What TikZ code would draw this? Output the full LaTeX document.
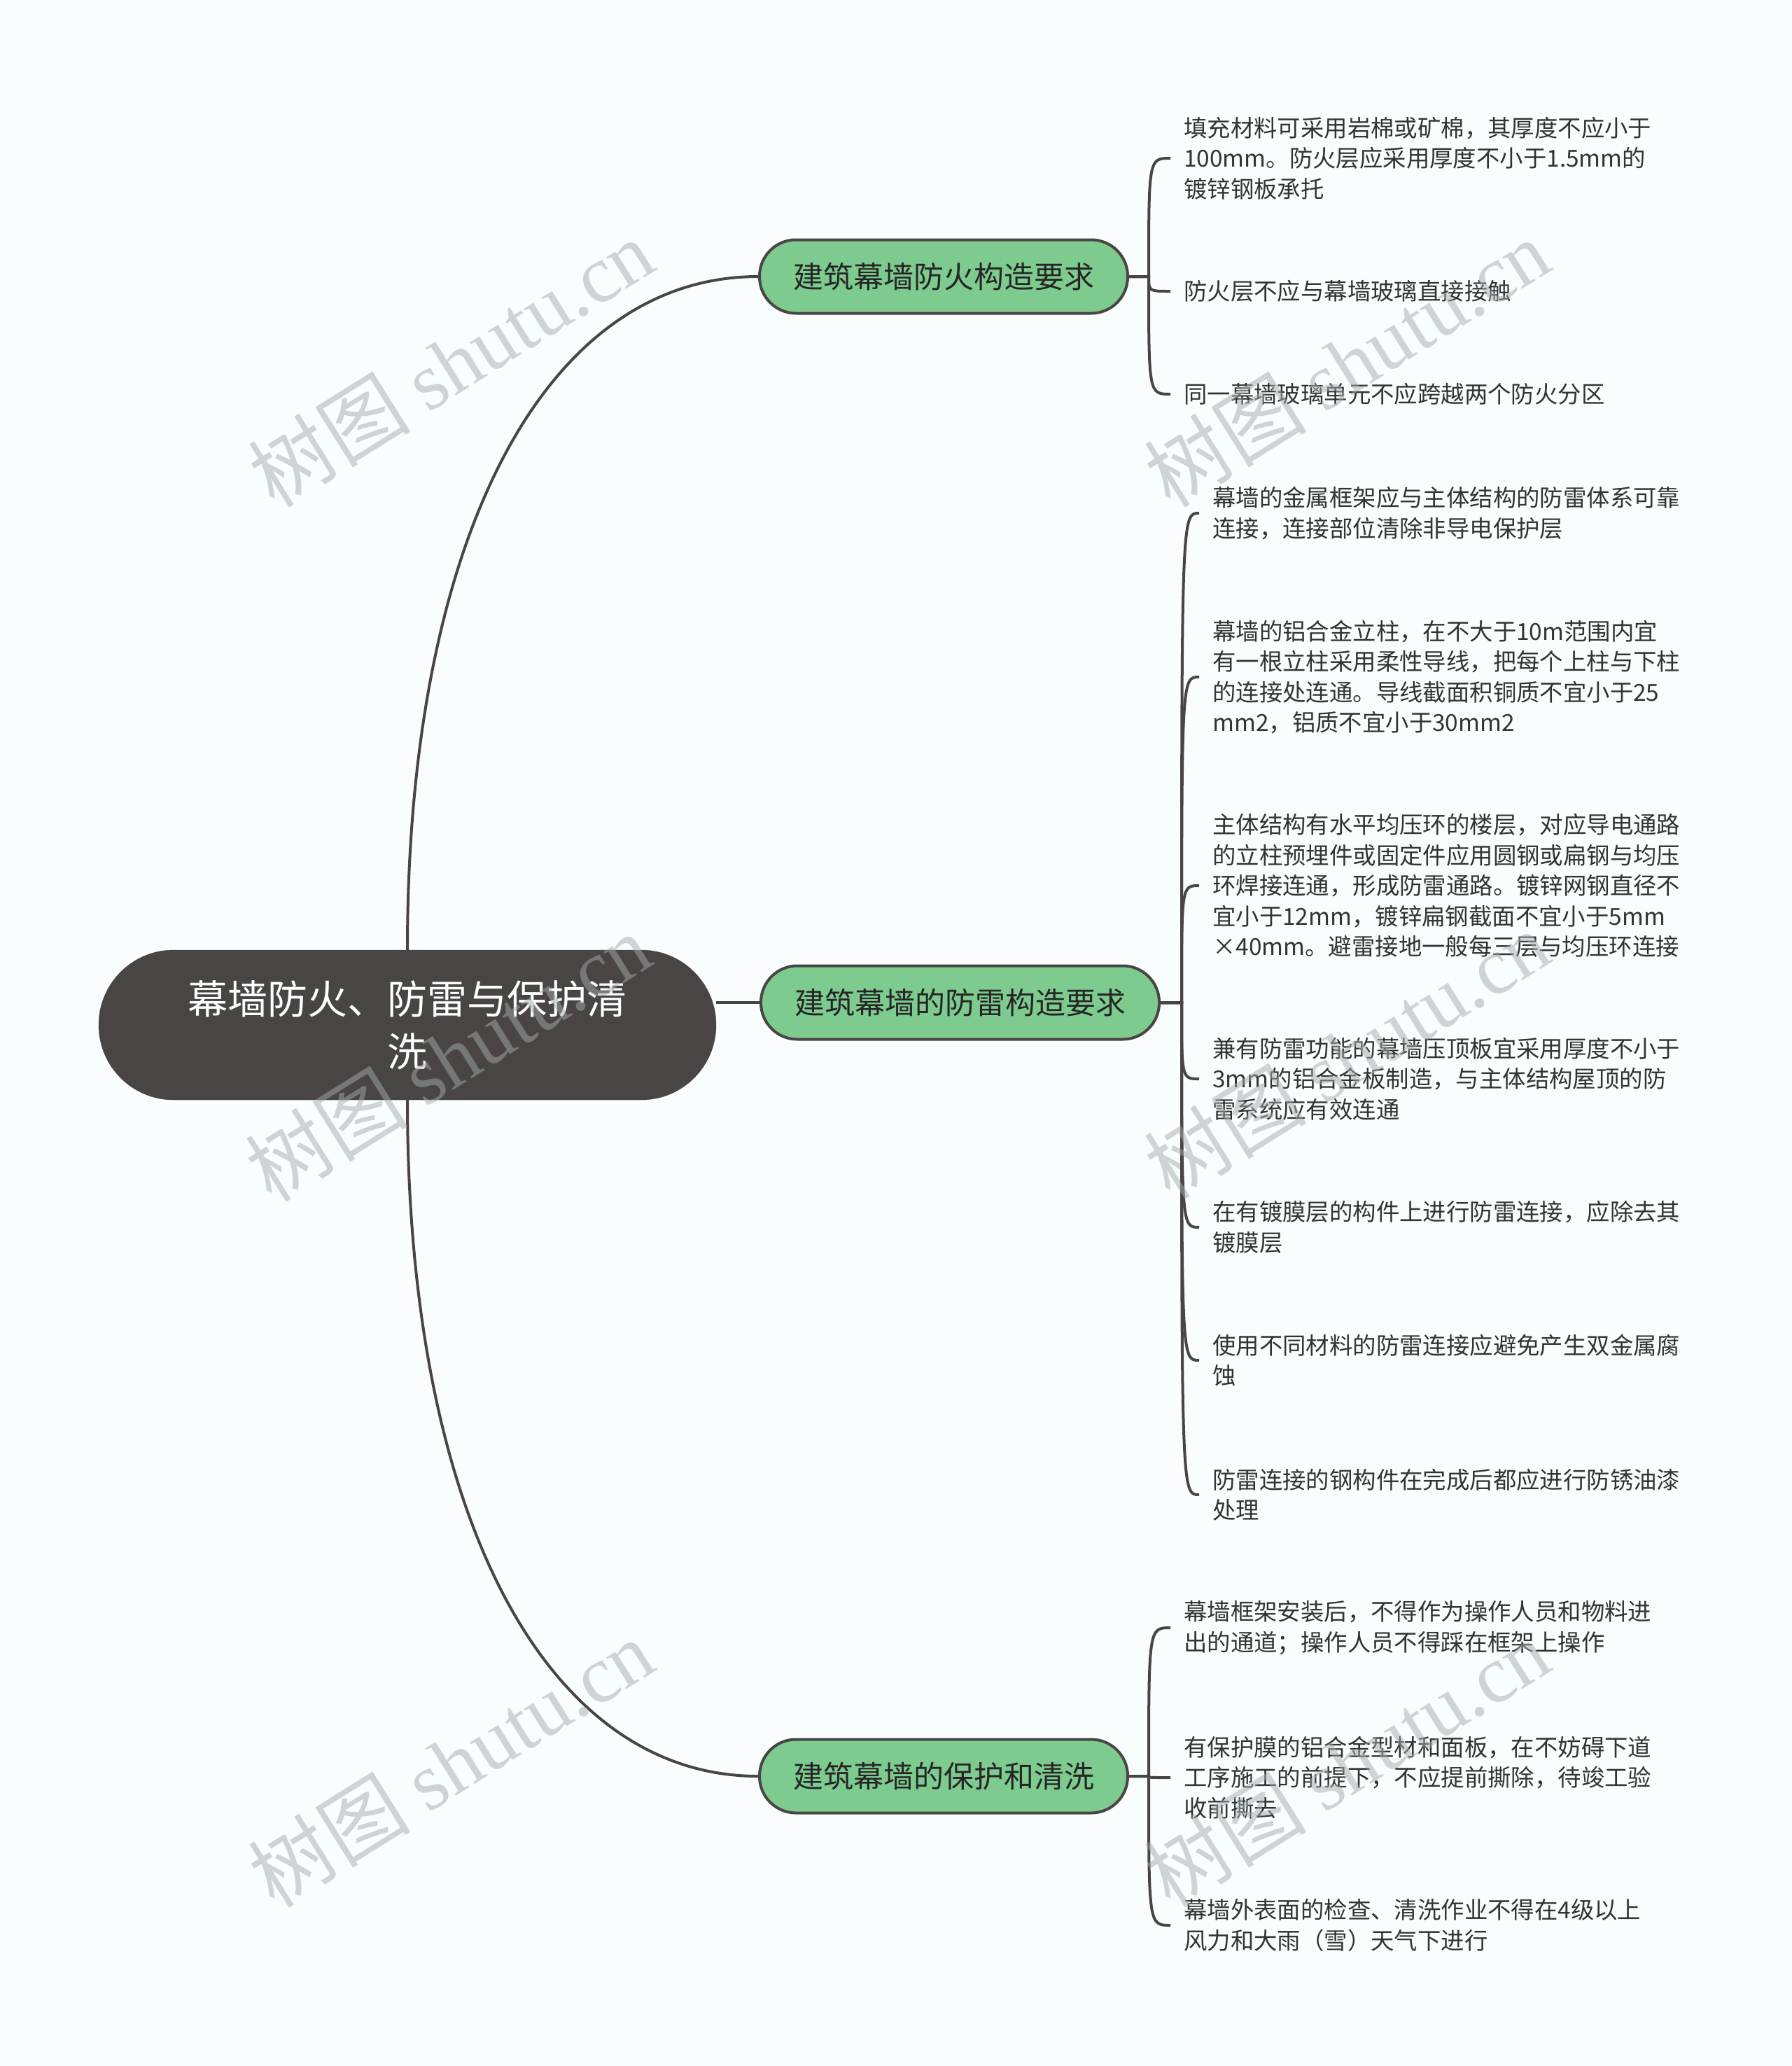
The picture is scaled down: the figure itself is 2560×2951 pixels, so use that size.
\documentclass[tikz,border=0pt]{standalone}
\usepackage{fontspec}
\setmainfont{Noto Sans CJK SC}
\newfontfamily\wmserif{Liberation Serif}
\usetikzlibrary{backgrounds}
\definecolor{bgc}{HTML}{FAFDFD}
\definecolor{rootc}{HTML}{4A4545}
\definecolor{branchc}{HTML}{7ECB8F}
\definecolor{linec}{HTML}{4A4545}
\definecolor{leaftext}{HTML}{333333}
\definecolor{branchtext}{HTML}{262626}
\definecolor{wmc}{HTML}{A3ABAB}
\begin{document}
\begin{tikzpicture}[x=1pt,y=-1pt,
  conn/.style={draw=linec, line width=4pt},
  rootbox/.style={fill=rootc, draw=rootc, text=white, rounded corners=107pt,
    minimum width=882pt, minimum height=214pt, align=center, inner sep=0pt,
    font=\fontsize{57}{75}\selectfont},
  branchbox/.style={fill=branchc, draw=linec, line width=4pt, rounded corners=52pt,
    minimum height=105pt, inner xsep=48pt, inner ysep=0pt, text=branchtext,
    font=\fontsize{43}{50}\selectfont, anchor=west},
  leafbox/.style={anchor=west, align=left, inner xsep=19pt, inner ysep=0pt,
    text=leaftext, font=\fontsize{33.4}{43.5}\selectfont},
  wm/.style={rotate=32, text=wmc, opacity=0.5, font=\fontsize{116}{116}\selectfont}
]
\useasboundingbox (0,0) rectangle (2560,2951);

% root and branches
\node[rootbox] (root) at (582,1464) {幕墙防火、防雷与保护清\\洗};
\node[branchbox] (B1) at (1083,395) {建筑幕墙防火构造要求};
\node[branchbox] (B2) at (1085,1432) {建筑幕墙的防雷构造要求};
\node[branchbox] (B3) at (1083,2537) {建筑幕墙的保护和清洗};

\coordinate (t1) at ([xshift=28pt]B1.east);
\coordinate (t2) at ([xshift=30pt]B2.east);
\coordinate (t3) at ([xshift=28pt]B3.east);

% leaves of B1
\node[leafbox] (L11) at (1672,226) {填充材料可采用岩棉或矿棉，其厚度不应小于\\100mm。防火层应采用厚度不小于1.5mm的\\镀锌钢板承托};
\node[leafbox] (L12) at (1672,416) {防火层不应与幕墙玻璃直接接触};
\node[leafbox] (L13) at (1672,563) {同一幕墙玻璃单元不应跨越两个防火分区};

% leaves of B2
\node[leafbox] (L21) at (1713,733) {幕墙的金属框架应与主体结构的防雷体系可靠\\连接，连接部位清除非导电保护层};
\node[leafbox] (L22) at (1713,967) {幕墙的铝合金立柱，在不大于10m范围内宜\\有一根立柱采用柔性导线，把每个上柱与下柱\\的连接处连通。导线截面积铜质不宜小于25\\mm2，铝质不宜小于30mm2};
\node[leafbox] (L23) at (1713,1265) {主体结构有水平均压环的楼层，对应导电通路\\的立柱预埋件或固定件应用圆钢或扁钢与均压\\环焊接连通，形成防雷通路。镀锌网钢直径不\\宜小于12mm，镀锌扁钢截面不宜小于5mm\\×40mm。避雷接地一般每三层与均压环连接};
\node[leafbox] (L24) at (1713,1541) {兼有防雷功能的幕墙压顶板宜采用厚度不小于\\3mm的铝合金板制造，与主体结构屋顶的防\\雷系统应有效连通};
\node[leafbox] (L25) at (1713,1753) {在有镀膜层的构件上进行防雷连接，应除去其\\镀膜层};
\node[leafbox] (L26) at (1713,1943) {使用不同材料的防雷连接应避免产生双金属腐\\蚀};
\node[leafbox] (L27) at (1713,2135) {防雷连接的钢构件在完成后都应进行防锈油漆\\处理};

% leaves of B3
\node[leafbox] (L31) at (1672,2325) {幕墙框架安装后，不得作为操作人员和物料进\\出的通道；操作人员不得踩在框架上操作};
\node[leafbox] (L32) at (1672,2539) {有保护膜的铝合金型材和面板，在不妨碍下道\\工序施工的前提下，不应提前撕除，待竣工验\\收前撕去};
\node[leafbox] (L33) at (1672,2750) {幕墙外表面的检查、清洗作业不得在4级以上\\风力和大雨（雪）天气下进行};

\begin{scope}[on background layer]
  \fill[bgc] (0,0) rectangle (2560,2951);
  % root to branches
  \draw[conn] (root.north) .. controls (582,770) and (777,395) .. (B1.west);
  \draw[conn] (root.south) .. controls (582,2160) and (777,2537) .. (B3.west);
  \draw[conn] (B2.west) -- (root.east |- B2.west);
  % branches to leaves
  \foreach \l in {L11,L12,L13}
    \draw[conn] (B1.east) -- (t1) .. controls (t1 |- \l.west) .. (\l.west);
  \foreach \l in {L21,L22,L23,L24,L25,L26,L27}
    \draw[conn] (B2.east) -- (t2) .. controls (t2 |- \l.west) .. (\l.west);
  \foreach \l in {L31,L32,L33}
    \draw[conn] (B3.east) -- (t3) .. controls (t3 |- \l.west) .. (\l.west);
\end{scope}

% watermarks
\node[wm] (w1) at (644,518) {树图 {\wmserif shutu.cn}};
\node[wm] (w2) at (1924,518) {树图 {\wmserif shutu.cn}};
\node[wm] (w3) at (640,1510) {树图 {\wmserif shutu.cn}};
\node[wm] (w4) at (1924,1506) {树图 {\wmserif shutu.cn}};
\node[wm] (w5) at (644,2518) {树图 {\wmserif shutu.cn}};
\node[wm] (w6) at (1924,2518) {树图 {\wmserif shutu.cn}};
\end{tikzpicture}
\end{document}
